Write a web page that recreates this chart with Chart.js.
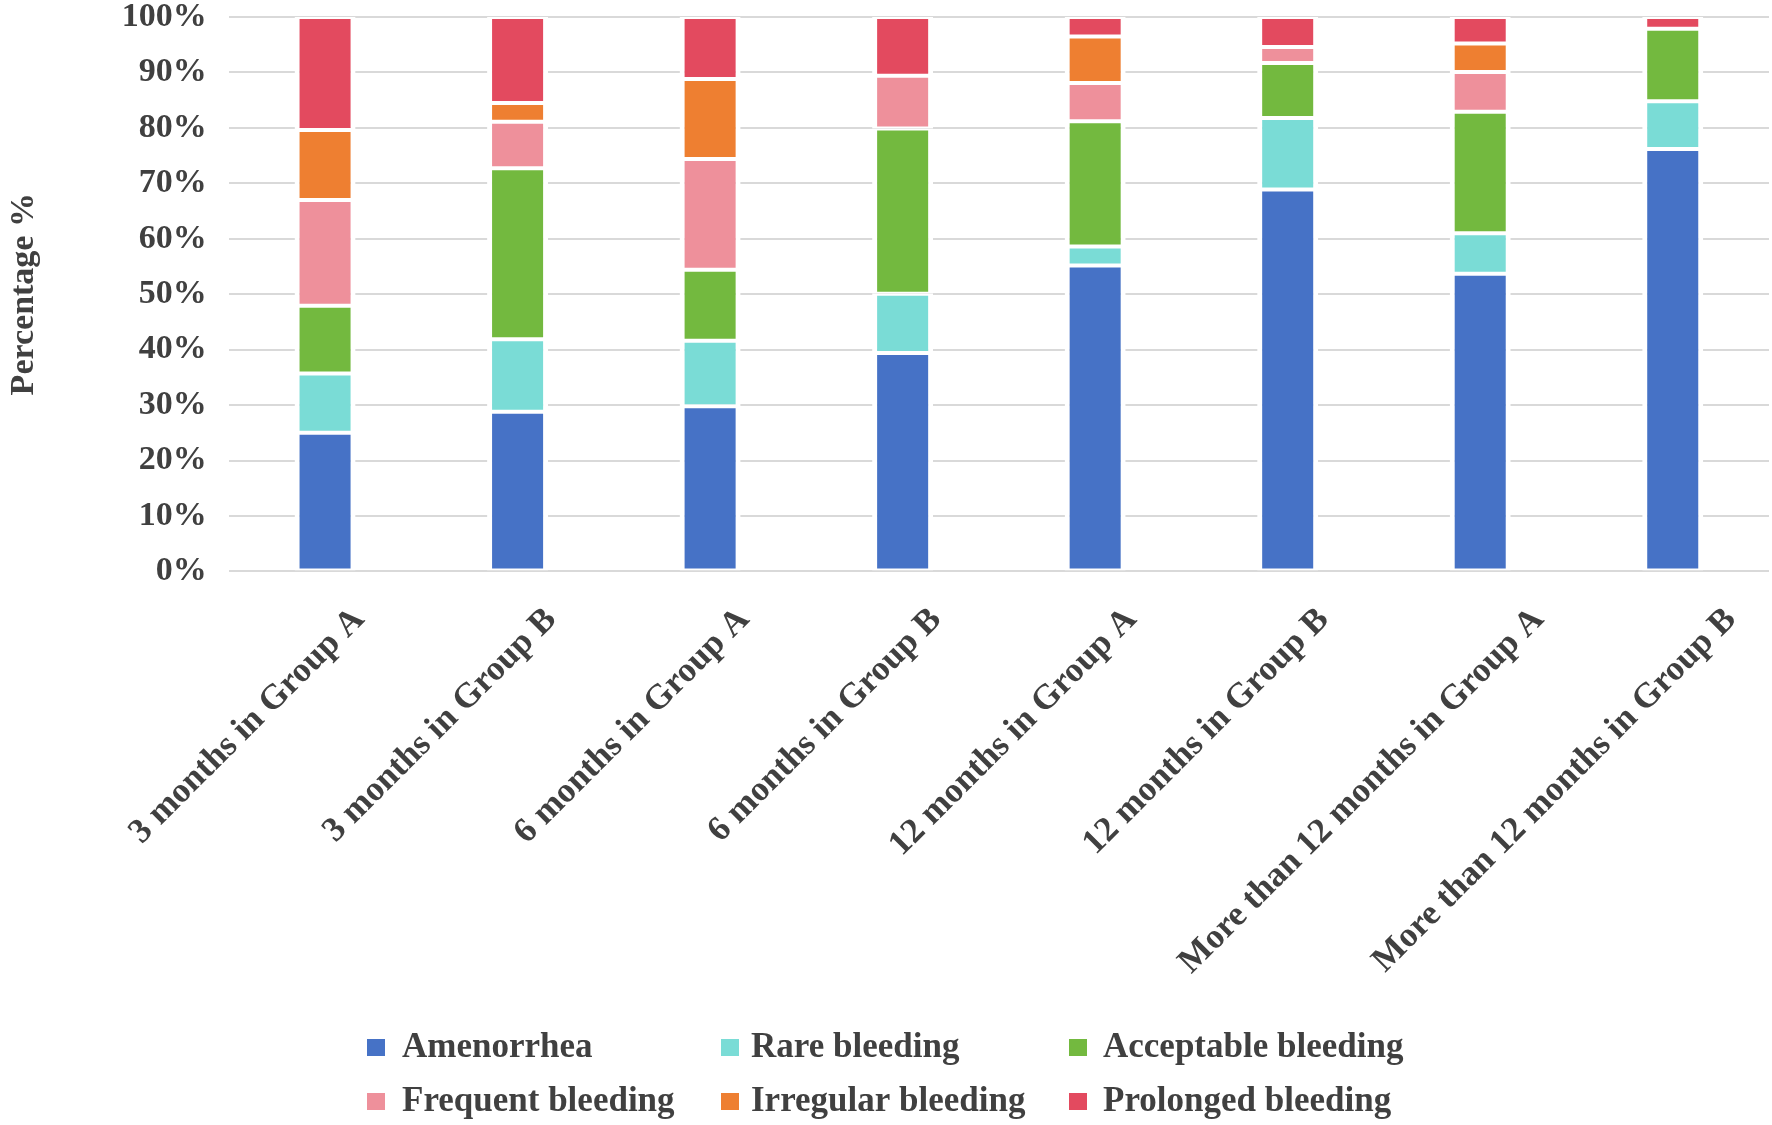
<!DOCTYPE html>
<html>
<head>
<meta charset="utf-8">
<script src="https://cdn.jsdelivr.net/npm/chart.js@4/dist/chart.umd.min.js"></script>
<style>
  html, body { margin: 0; padding: 0; background: #ffffff; }
  #wrap { width: 1772px; height: 1125px; }
</style>
</head>
<body>
<div id="wrap"><canvas id="c" width="1772" height="1125"></canvas></div>
<script>
const categories = [
  "3 months in Group A", "3 months in Group B",
  "6 months in Group A", "6 months in Group B",
  "12 months in Group A", "12 months in Group B",
  "More than 12 months in Group A", "More than 12 months in Group B"
];
const seriesNames = ["Amenorrhea", "Rare bleeding", "Acceptable bleeding", "Frequent bleeding", "Irregular bleeding", "Prolonged bleeding"];
const amenorrhea = [25.0, 28.8, 29.8, 39.4, 55.2, 68.9, 53.7, 76.2];
const rareBleeding = [10.7, 13.1, 11.8, 10.7, 3.4, 12.9, 7.3, 8.6];
const acceptableBleeding = [12.2, 30.8, 12.8, 29.8, 22.6, 9.9, 21.9, 13.1];
const frequentBleeding = [19.1, 8.4, 20.0, 9.5, 6.9, 2.9, 7.2, 0];
const irregularBleeding = [12.6, 3.4, 14.4, 0, 8.4, 0, 5.1, 0];
const prolongedBleeding = [20.4, 15.5, 11.2, 10.6, 3.5, 5.4, 4.8, 2.1];
const yTicks = [0, 10, 20, 30, 40, 50, 60, 70, 80, 90, 100];
const colors = ["#4672c6", "#7adcd6", "#73b93f", "#ee909b", "#ee7f31", "#e34a5f"];

const seriesValues = [amenorrhea, rareBleeding, acceptableBleeding, frequentBleeding, irregularBleeding, prolongedBleeding];
const FONT = "'Liberation Serif', 'Times New Roman', serif";
const TEXT = "#404040";
const XFONT_SIZE = 35;

// Legend laid out in a fixed 3-column grid like the original
const gridLegend = {
  id: "gridLegend",
  afterDraw(chart) {
    const ctx = chart.ctx;
    const boxX = [367, 721, 1069];
    const textX = [402, 751, 1103];
    const rows = [1047, 1101];
    ctx.save();
    ctx.font = "bold 35px " + FONT;
    ctx.textBaseline = "middle";
    ctx.textAlign = "left";
    chart.data.datasets.forEach((ds, i) => {
      const c = i % 3;
      const y = rows[Math.floor(i / 3)];
      ctx.fillStyle = ds.backgroundColor;
      ctx.fillRect(boxX[c], y - 8, 18, 17);
      ctx.fillStyle = TEXT;
      ctx.fillText(ds.label, textX[c], y + 1);
    });
    ctx.restore();
  }
};

// Shift rotated category labels to the right, proportionally to their length (Excel-like anchoring)
const labelShift = {
  id: "labelShift",
  beforeDraw(chart) {
    const sc = chart.scales.x;
    if (!sc || !sc.getLabelItems) return;
    const items = sc.getLabelItems(chart.chartArea);
    if (!items || items._shifted) return;
    const ctx = chart.ctx;
    ctx.save();
    ctx.font = "bold " + XFONT_SIZE + "px " + FONT;
    items.forEach(it => {
      const text = Array.isArray(it.label) ? it.label.join(" ") : String(it.label);
      const w = ctx.measureText(text).width;
      if (it.options && it.options.translation) {
        it.options.translation[0] += 0.133 * w - 8;
      }
    });
    ctx.restore();
    items._shifted = true;
  }
};

new Chart(document.getElementById("c"), {
  type: "bar",
  data: {
    labels: categories,
    datasets: seriesNames.map((name, i) => ({
      label: name,
      data: seriesValues[i],
      backgroundColor: colors[i],
      borderColor: "#ffffff",
      borderWidth: { top: 2, bottom: 2, left: 5, right: 5 },
      borderSkipped: false,
      barPercentage: 0.317,
      categoryPercentage: 1.0
    }))
  },
  options: {
    responsive: false,
    devicePixelRatio: 1,
    animation: false,
    layout: { padding: { left: 4, right: 3, top: 17, bottom: 122 } },
    plugins: {
      legend: { display: false },
      tooltip: { enabled: false }
    },
    scales: {
      x: {
        stacked: true,
        grid: { display: false },
        border: { display: false },
        ticks: {
          autoSkip: false,
          minRotation: 45,
          maxRotation: 45,
          padding: 20,
          color: TEXT,
          font: { family: FONT, size: XFONT_SIZE, weight: "bold" }
        }
      },
      y: {
        stacked: true,
        min: 0,
        max: 100,
        afterBuildTicks(scale) { scale.ticks = yTicks.map(v => ({ value: v })); },
        afterFit(scale) { scale.paddingTop = 0; scale.paddingBottom = 0; },
        grid: { color: "#d9d9d9", lineWidth: 2, drawTicks: false },
        border: { display: false },
        ticks: {
          padding: 22,
          color: TEXT,
          font: { family: FONT, size: 34, weight: "bold" },
          callback: v => v + "%"
        },
        title: {
          display: true,
          text: "Percentage %",
          color: TEXT,
          font: { family: FONT, size: 34, weight: "bold" },
          padding: { top: 0, bottom: 55 }
        }
      }
    }
  },
  plugins: [labelShift, gridLegend]
});
</script>
</body>
</html>
